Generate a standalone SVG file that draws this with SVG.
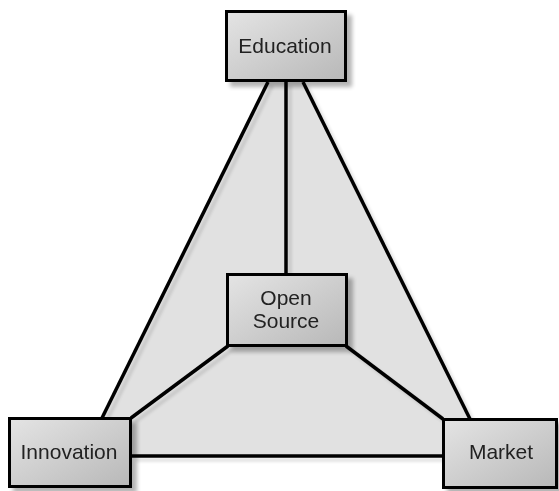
<svg xmlns="http://www.w3.org/2000/svg" width="559" height="491" viewBox="0 0 559 491">
<defs>
<linearGradient id="boxg" x1="0" y1="0" x2="1" y2="1">
<stop offset="0" stop-color="#e4e4e4"/>
<stop offset="1" stop-color="#b8b8b8"/>
</linearGradient>
<filter id="shadow" x="-20%" y="-20%" width="150%" height="150%">
<feGaussianBlur in="SourceAlpha" stdDeviation="2"/>
<feOffset dx="5" dy="5" result="b"/>
<feComponentTransfer><feFuncA type="linear" slope="0.3"/></feComponentTransfer>
<feMerge><feMergeNode/><feMergeNode in="SourceGraphic"/></feMerge>
</filter>
<filter id="lshadow" x="-20%" y="-20%" width="150%" height="150%">
<feGaussianBlur in="SourceAlpha" stdDeviation="1.5"/>
<feOffset dx="4" dy="4" result="b"/>
<feComponentTransfer><feFuncA type="linear" slope="0.12"/></feComponentTransfer>
<feMerge><feMergeNode/><feMergeNode in="SourceGraphic"/></feMerge>
</filter>
</defs>
<style>
.box{fill:url(#boxg);stroke:#000;stroke-width:3}
.lbl{font-family:"Liberation Sans",Arial,sans-serif;font-size:21px;fill:#222;text-anchor:middle}
.con{stroke:#000;stroke-width:3.5;fill:none}
</style>
<rect width="559" height="491" fill="#fff"/>
<polygon points="268,82 303,82 470,419 443,419 443,456 132,456 132,418 102,418" fill="#e1e1e1"/>
<g id="connectors" filter="url(#lshadow)">
<line class="con" x1="268" y1="82" x2="102" y2="418"/>
<line class="con" x1="303" y1="82" x2="470" y2="419"/>
<line class="con" x1="286" y1="82" x2="286" y2="274"/>
<line class="con" x1="228" y1="346" x2="131" y2="418"/>
<line class="con" x1="346" y1="346" x2="443" y2="419"/>
<line class="con" x1="132" y1="456" x2="443" y2="456"/>
</g>
<g id="education" filter="url(#shadow)">
<rect class="box" x="226.5" y="11.5" width="119" height="69"/>
<text class="lbl" x="285" y="53">Education</text>
</g>
<g id="opensource" filter="url(#shadow)">
<rect class="box" x="227.5" y="274.5" width="119" height="71"/>
<text class="lbl" x="286" y="305">Open</text>
<text class="lbl" x="286" y="328">Source</text>
</g>
<g id="innovation" filter="url(#shadow)">
<rect class="box" x="9.5" y="418.5" width="121" height="68"/>
<text class="lbl" x="69" y="459">Innovation</text>
</g>
<g id="market" filter="url(#shadow)">
<rect class="box" x="443.5" y="419.5" width="113" height="68"/>
<text class="lbl" x="501" y="459">Market</text>
</g>
</svg>
